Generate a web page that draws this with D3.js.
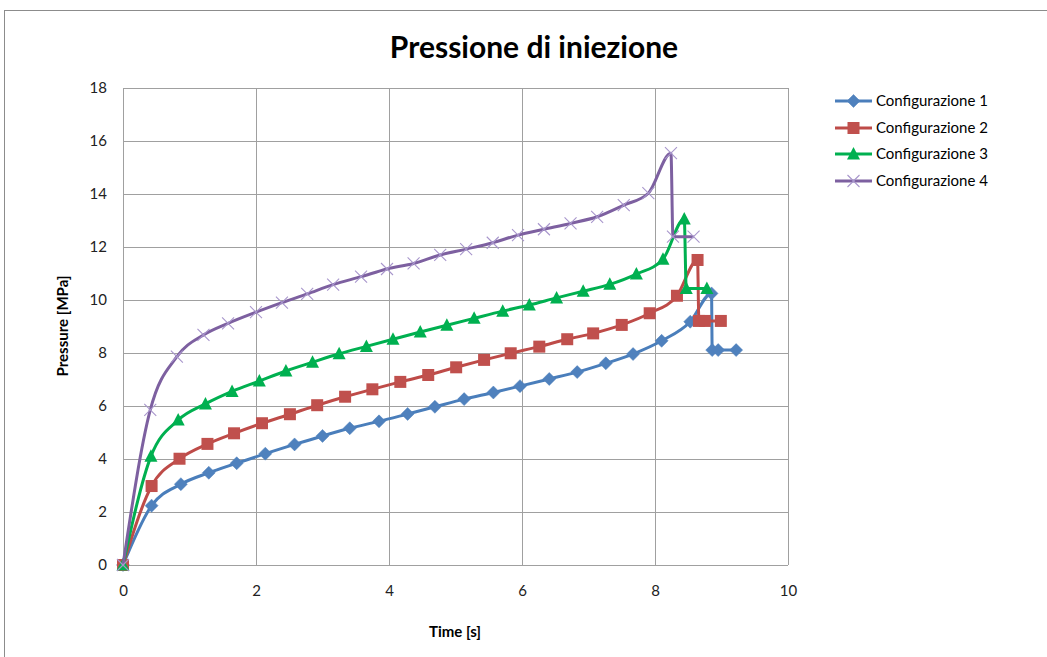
<!DOCTYPE html>
<html><head><meta charset="utf-8">
<script src="https://cdn.jsdelivr.net/npm/d3@7/dist/d3.min.js"></script>
<style>body{margin:0;background:#fff;overflow:hidden}</style>
</head><body>
<svg id="chart" width="1047" height="657"></svg>
<script>
// ---- data ----
const seriesNames = ["Configurazione 1", "Configurazione 2", "Configurazione 3", "Configurazione 4"];

const time1 = [0, 0.43, 0.87, 1.29, 1.71, 2.14, 2.58, 3.00, 3.41, 3.85, 4.28, 4.69, 5.13, 5.57, 5.97, 6.41, 6.83, 7.26, 7.67, 8.10, 8.53, 8.85, 8.86, 8.95, 9.22];
const press1 = [0, 2.24, 3.05, 3.48, 3.84, 4.20, 4.55, 4.87, 5.16, 5.42, 5.70, 5.97, 6.26, 6.51, 6.75, 7.02, 7.28, 7.61, 7.96, 8.46, 9.18, 10.25, 8.11, 8.11, 8.11];

const time2 = [0, 0.43, 0.85, 1.27, 1.67, 2.09, 2.51, 2.92, 3.34, 3.75, 4.17, 4.59, 5.01, 5.43, 5.83, 6.26, 6.68, 7.07, 7.50, 7.92, 8.33, 8.64, 8.66, 8.75, 8.99];
const press2 = [0, 2.98, 4.01, 4.57, 4.97, 5.35, 5.69, 6.03, 6.35, 6.63, 6.91, 7.17, 7.46, 7.74, 7.99, 8.24, 8.52, 8.74, 9.06, 9.50, 10.16, 11.51, 9.21, 9.21, 9.21];

const time3 = [0, 0.42, 0.83, 1.24, 1.64, 2.05, 2.45, 2.85, 3.25, 3.66, 4.06, 4.47, 4.87, 5.28, 5.71, 6.11, 6.52, 6.92, 7.32, 7.72, 8.12, 8.44, 8.47, 8.78];
const press3 = [0, 4.10, 5.47, 6.08, 6.55, 6.94, 7.32, 7.65, 7.97, 8.25, 8.52, 8.79, 9.05, 9.31, 9.58, 9.81, 10.08, 10.33, 10.59, 10.98, 11.54, 13.06, 10.43, 10.43];

const time4 = [0, 0.41, 0.81, 1.21, 1.58, 2.00, 2.39, 2.77, 3.16, 3.58, 3.97, 4.37, 4.77, 5.16, 5.56, 5.94, 6.33, 6.73, 7.13, 7.53, 7.90, 8.24, 8.27, 8.58];
const press4 = [0, 5.85, 7.86, 8.68, 9.12, 9.54, 9.90, 10.23, 10.58, 10.88, 11.17, 11.38, 11.70, 11.92, 12.16, 12.45, 12.67, 12.89, 13.14, 13.58, 14.03, 15.54, 12.39, 12.39];

const xTicks = [0, 2, 4, 6, 8, 10];
const yTicks = [0, 2, 4, 6, 8, 10, 12, 14, 16, 18];

const chartTitle = "Pressione di iniezione";
const xTitle = "Time [s]";
const yTitle = "Pressure [MPa]";

// ---- styles ----
const lineColors = ["#4a7ebb", "#be4b48", "#00b050", "#7d60a0"];
const markerFill = ["#4f81bd", "#c0504d", "#00b050", "none"];
const markerTypes = ["diamond", "square", "triangle", "cross"];
const FONT = "Lato, 'Open Sans', sans-serif";

const svg = d3.select("#chart");
svg.append("rect").attr("x", 4.5).attr("y", 10.5).attr("width", 1100).attr("height", 700)
  .attr("fill", "#fff").attr("stroke", "#8c8c8c").attr("stroke-width", 1);

const x = d3.scaleLinear().domain([0, 10]).range([123, 788]);
const y = d3.scaleLinear().domain([0, 18]).range([565, 88]);

// grid
const grid = svg.append("g").attr("shape-rendering", "crispEdges");
grid.selectAll("line.h").data(yTicks).join("line")
  .attr("x1", x(0)).attr("x2", x(10)).attr("y1", d => Math.round(y(d)) + 0.5).attr("y2", d => Math.round(y(d)) + 0.5)
  .attr("stroke", "#a0a0a0").attr("stroke-width", 1);
grid.selectAll("line.v").data(xTicks).join("line")
  .attr("y1", y(0)).attr("y2", y(18)).attr("x1", d => Math.round(x(d)) + 0.5).attr("x2", d => Math.round(x(d)) + 0.5)
  .attr("stroke", "#a0a0a0").attr("stroke-width", 1);

// axes
const yAxis = svg.append("g").attr("transform", `translate(${x(0)},0)`)
  .call(d3.axisLeft(y).tickValues(yTicks).tickSize(0).tickPadding(16).tickFormat(d3.format("d")));
const xAxis = svg.append("g").attr("transform", `translate(0,${y(0)})`)
  .call(d3.axisBottom(x).tickValues(xTicks).tickSize(0).tickPadding(20).tickFormat(d3.format("d")));
[yAxis, xAxis].forEach(a => {
  a.select(".domain").remove();
  a.selectAll("text").attr("font-family", FONT).attr("font-size", 15).attr("fill", "#222");
});

// titles
svg.append("text").attr("x", 534).attr("y", 58).attr("text-anchor", "middle")
  .attr("font-family", FONT).attr("font-weight", "bold").attr("font-size", 30).attr("fill", "#000").text(chartTitle);
svg.append("text").attr("x", 455).attr("y", 637).attr("text-anchor", "middle")
  .attr("font-family", FONT).attr("font-weight", "bold").attr("font-size", 15).attr("fill", "#000").text(xTitle);
svg.append("text").attr("transform", "translate(68,326) rotate(-90)").attr("text-anchor", "middle")
  .attr("font-family", FONT).attr("font-weight", "bold").attr("font-size", 15).attr("fill", "#000").text(yTitle);

// markers
function drawMarker(g, type, i) {
  if (type === "diamond") {
    g.append("path").attr("d", "M0,-6.5L6.5,0L0,6.5L-6.5,0Z").attr("fill", markerFill[i]).attr("stroke", markerFill[i]).attr("stroke-width", 0.5);
  } else if (type === "square") {
    g.append("rect").attr("x", -6).attr("y", -6).attr("width", 12).attr("height", 12).attr("fill", markerFill[i]);
  } else if (type === "triangle") {
    g.append("path").attr("d", "M0,-7L6.5,5.5L-6.5,5.5Z").attr("fill", markerFill[i]);
  } else {
    g.append("path").attr("d", "M-6,-6L6,6M6,-6L-6,6").attr("stroke", "#a896cc").attr("stroke-width", 1.1).attr("fill", "none");
  }
}

const allTimes = [time1, time2, time3, time4];
const allPress = [press1, press2, press3, press4];
const line = d3.line().x(d => x(d[0])).y(d => y(d[1])).curve(d3.curveMonotoneX);

const plot = svg.append("g");
allTimes.forEach((ts, i) => {
  const pts = ts.map((t, k) => [t, allPress[i][k]]);
  const g = plot.append("g");
  g.append("path").datum(pts).attr("d", line).attr("fill", "none")
    .attr("stroke", lineColors[i]).attr("stroke-width", 3).attr("stroke-linejoin", "round");
  g.selectAll("g.m").data(pts).join("g").attr("class", "m")
    .attr("transform", d => `translate(${x(d[0])},${y(d[1])})`)
    .each(function () { drawMarker(d3.select(this), markerTypes[i], i); });
});

// legend
const legend = svg.append("g");
const legY = [101, 128, 154, 181];
seriesNames.forEach((name, i) => {
  const g = legend.append("g").attr("transform", `translate(835,${legY[i]})`);
  g.append("line").attr("x1", 0).attr("x2", 37).attr("stroke", lineColors[i]).attr("stroke-width", 3);
  const m = g.append("g").attr("transform", "translate(18.5,0)");
  drawMarker(m, markerTypes[i], i);
  g.append("text").attr("x", 41).attr("y", 0).attr("dy", "0.35em")
    .attr("font-family", FONT).attr("font-size", 15).attr("fill", "#000").text(name);
});
</script>
</body></html>
